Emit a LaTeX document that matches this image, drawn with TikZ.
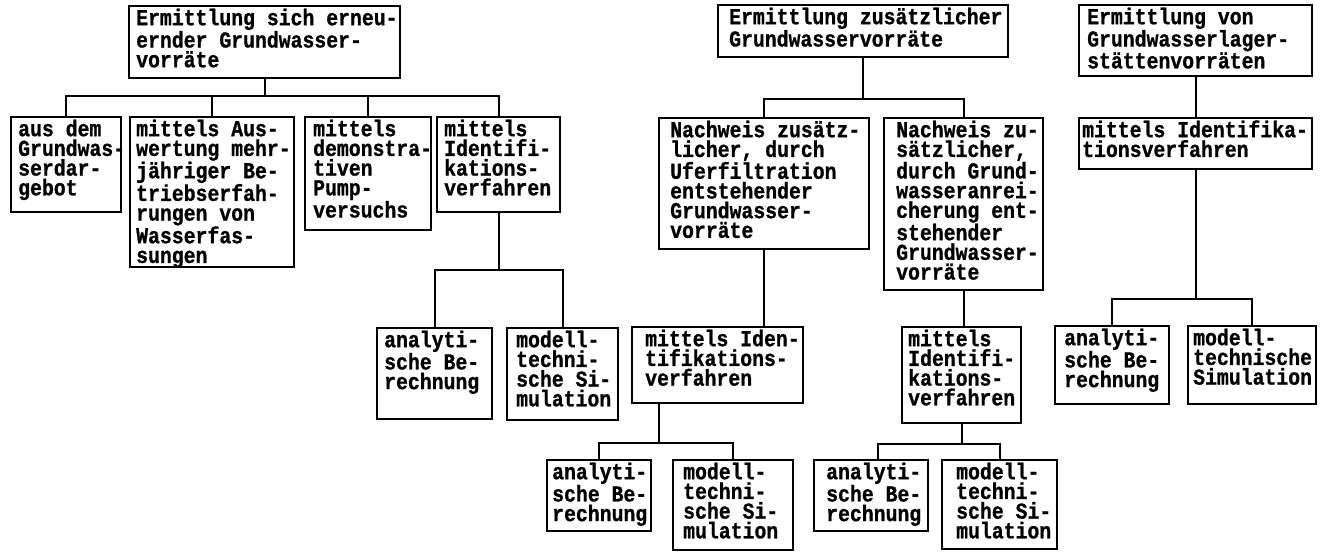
\documentclass[tikz,border=0pt]{standalone}
\usepackage{fontspec}
\usepackage{graphicx}
\newfontfamily\boxfont{Liberation Mono}[BoldFeatures={FakeBold=1}]
\newlength\padx
\newcommand\BF[1]{\hbox to\hsize{\kern\padx\rule{0pt}{19pt}\scalebox{1}[1.15]{#1}\hss}}
\newcommand\BL[1]{\hbox to\hsize{\kern\padx\scalebox{1}[1.15]{#1}\hss}}
\newcommand\BX[4][7pt]{\setlength\padx{#1}\parbox[c][#3][t]{#2}{\boxfont\bfseries\fontsize{19.8pt}{19.7pt}\selectfont #4}}
\tikzset{
  box/.style={draw, line width=2.4pt, anchor=north west, inner sep=0pt},
  conn/.style={line width=2pt}
}
\begin{document}
\begin{tikzpicture}[x=1pt,y=-1pt]
\useasboundingbox (0,0) rectangle (1323,552);
% ---------- group 1 ----------
\node[box] (T1) at (128,5) {\BX{271pt}{72pt}{\BF{Ermittlung sich erneu-}\BL{ernder Grundwasser-}\BL{vorräte}}};
\node[box] (A1) at (10,116) {\BX[7pt]{110pt}{95pt}{\BF{aus dem}\BL{Grundwas-}\BL{serdar-}\BL{gebot}}};
\node[box] (A2) at (129,116) {\BX[6pt]{164pt}{150pt}{\BF{mittels Aus-}\BL{wertung mehr-}\BL{jähriger Be-}\BL{triebserfah-}\BL{rungen von}\BL{Wasserfas-}\BL{sungen}}};
\node[box] (A3) at (304,116) {\BX[8pt]{126pt}{113pt}{\BF{mittels}\BL{demonstra-}\BL{tiven}\BL{Pump-}\BL{versuchs}}};
\node[box] (A4) at (436,116) {\BX[7pt]{123pt}{95pt}{\BF{mittels}\BL{Identifi-}\BL{kations-}\BL{verfahren}}};
\node[box] (B1) at (376,327) {\BX[7pt]{115pt}{91pt}{\BF{analyti-}\BL{sche Be-}\BL{rechnung}}};
\node[box] (B2) at (506,327) {\BX[9pt]{111pt}{92pt}{\BF{modell-}\BL{techni-}\BL{sche Si-}\BL{mulation}}};
\coordinate (bus1) at (0,96);
\coordinate (bus2) at (0,270);
\draw[conn] (T1.south) -- (T1.south |- bus1);
\draw[conn] (A1.north) -- (A1.north |- bus1) -- (A4.north |- bus1) -- (A4.north);
\draw[conn] (A2.north) -- (A2.north |- bus1);
\draw[conn] (A3.north) -- (A3.north |- bus1);
\draw[conn] (A4.south) -- (A4.south |- bus2);
\draw[conn] (B1.north) -- (B1.north |- bus2) -- (B2.north |- bus2) -- (B2.north);
% ---------- group 2 ----------
\node[box] (T2) at (717,4) {\BX[11pt]{290pt}{52pt}{\BF{Ermittlung zusätzlicher}\BL{Grundwasservorräte}}};
\node[box] (C1) at (658,117) {\BX[11pt]{210pt}{131pt}{\BF{Nachweis zusätz-}\BL{licher, durch}\BL{Uferfiltration}\BL{entstehender}\BL{Grundwasser-}\BL{vorräte}}};
\node[box] (C2) at (883,117) {\BX[12pt]{159pt}{172pt}{\BF{Nachweis zu-}\BL{sätzlicher,}\BL{durch Grund-}\BL{wasseranrei-}\BL{cherung ent-}\BL{stehender}\BL{Grundwasser-}\BL{vorräte}}};
\node[box] (D1) at (631,326) {\BX[13pt]{171pt}{76pt}{\BF{mittels Iden-}\BL{tifikations-}\BL{verfahren}}};
\node[box] (D2) at (901,326) {\BX[6pt]{119pt}{96pt}{\BF{mittels}\BL{Identifi-}\BL{kations-}\BL{verfahren}}};
\node[box] (E1) at (546,459) {\BX[5pt]{104pt}{71pt}{\BF{analyti-}\BL{sche Be-}\BL{rechnung}}};
\node[box] (E2) at (672,459) {\BX[10pt]{120pt}{90pt}{\BF{modell-}\BL{techni-}\BL{sche Si-}\BL{mulation}}};
\node[box] (E3) at (813,459) {\BX[12pt]{114pt}{71pt}{\BF{analyti-}\BL{sche Be-}\BL{rechnung}}};
\node[box] (E4) at (941,459) {\BX[14pt]{115pt}{89pt}{\BF{modell-}\BL{techni-}\BL{sche Si-}\BL{mulation}}};
\coordinate (bus3) at (0,99);
\coordinate (k1) at (659,443);
\coordinate (k2) at (962,444);
\coordinate (k3) at (878,444);
\draw[conn] (T2.south) -- (T2.south |- bus3);
\draw[conn] (C1.north) -- (C1.north |- bus3) -- (C2.north |- bus3) -- (C2.north);
\draw[conn] (C1.south) -- (C1.south |- D1.north);
\draw[conn] (C2.south) -- (C2.south |- D2.north);
\draw[conn] (D1.south -| k1) -- (k1);
\draw[conn] (E1.north) -- (E1.north |- k1) -- (E2.north |- k1) -- (E2.north);
\draw[conn] (D2.south -| k2) -- (k2);
\draw[conn] (E3.north -| k3) -- (k3) -- (E4.north |- k3) -- (E4.north);
% ---------- group 3 ----------
\node[box] (T3) at (1078,4) {\BX[8pt]{233pt}{71pt}{\BF{Ermittlung von}\BL{Grundwasserlager-}\BL{stättenvorräten}}};
\node[box] (F1) at (1078,117) {\BX[3pt]{233pt}{51pt}{\BF{mittels Identifika-}\BL{tionsverfahren}}};
\node[box] (G1) at (1054,325) {\BX[9pt]{114pt}{78pt}{\BF{analyti-}\BL{sche Be-}\BL{rechnung}}};
\node[box] (G2) at (1187,325) {\BX[5pt]{128pt}{78pt}{\BF{modell-}\BL{technische}\BL{Simulation}}};
\coordinate (bus4) at (0,299);
\draw[conn] (T3.south) -- (F1.north);
\draw[conn] (F1.south) -- (F1.south |- bus4);
\draw[conn] (G1.north) -- (G1.north |- bus4) -- (G2.north |- bus4) -- (G2.north);
\end{tikzpicture}
\end{document}
